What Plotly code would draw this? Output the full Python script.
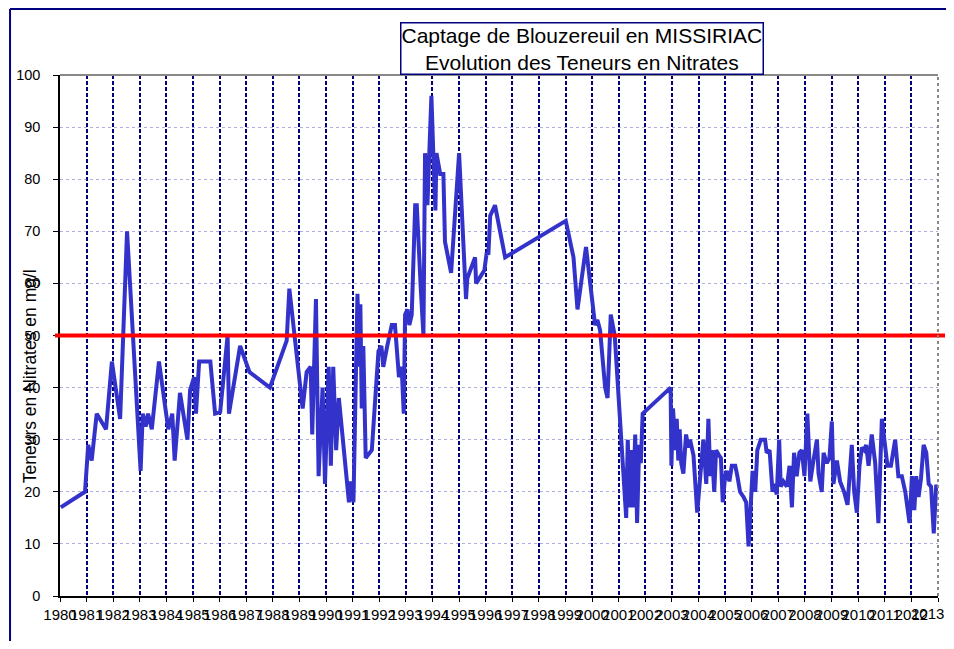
import plotly.graph_objects as go

# Sample dates (decimal years) and nitrate concentrations (mg/l)
years = [
    1980.03, 1980.94, 1981.06, 1981.19, 1981.38, 1981.73, 1981.95, 1982.26, 1982.52, 1983.03,
    1983.11, 1983.22, 1983.31, 1983.45, 1983.72, 1983.92, 1984.07, 1984.22, 1984.31, 1984.51,
    1984.79, 1984.89, 1985.04, 1985.11, 1985.23, 1985.65, 1985.83, 1986.02, 1986.30, 1986.35,
    1986.77, 1987.12, 1987.89, 1988.52, 1988.62, 1989.12, 1989.27, 1989.42, 1989.48, 1989.62,
    1989.72, 1989.87, 1989.96, 1990.10, 1990.18, 1990.27, 1990.38, 1990.48, 1990.78, 1990.86,
    1990.93, 1991.03, 1991.18, 1991.25, 1991.29, 1991.34, 1991.40, 1991.49, 1991.72, 1991.97,
    1992.08, 1992.15, 1992.30, 1992.47, 1992.59, 1992.74, 1992.84, 1992.92, 1992.97, 1993.06,
    1993.13, 1993.22, 1993.35, 1993.41, 1993.56, 1993.66, 1993.72, 1993.81, 1993.88, 1993.96,
    1994.03, 1994.11, 1994.15, 1994.29, 1994.41, 1994.47, 1994.70, 1995.00, 1995.26, 1995.31,
    1995.60, 1995.64, 1995.95, 1996.04, 1996.10, 1996.17, 1996.35, 1996.73, 1999.01, 1999.30,
    1999.45, 1999.77, 2000.11, 2000.20, 2000.30, 2000.49, 2000.58, 2000.70, 2000.85, 2001.28,
    2001.34, 2001.40, 2001.47, 2001.53, 2001.62, 2001.69, 2001.77, 2001.83, 2001.90, 2002.95,
    2002.98, 2003.04, 2003.14, 2003.18, 2003.24, 2003.29, 2003.35, 2003.43, 2003.53, 2003.62,
    2003.68, 2003.81, 2003.95, 2004.06, 2004.18, 2004.29, 2004.37, 2004.44, 2004.50, 2004.59,
    2004.66, 2004.77, 2004.84, 2004.91, 2005.00, 2005.06, 2005.16, 2005.25, 2005.38, 2005.46,
    2005.56, 2005.69, 2005.79, 2005.88, 2005.98, 2006.03, 2006.13, 2006.21, 2006.34, 2006.50,
    2006.56, 2006.67, 2006.78, 2006.84, 2006.94, 2007.03, 2007.09, 2007.19, 2007.32, 2007.42,
    2007.51, 2007.59, 2007.69, 2007.79, 2007.88, 2007.98, 2008.09, 2008.20, 2008.32, 2008.45,
    2008.51, 2008.63, 2008.70, 2008.82, 2008.92, 2009.01, 2009.07, 2009.20, 2009.32, 2009.47,
    2009.60, 2009.76, 2009.85, 2009.95, 2010.05, 2010.14, 2010.23, 2010.30, 2010.39, 2010.51,
    2010.64, 2010.76, 2010.89, 2011.01, 2011.10, 2011.23, 2011.39, 2011.51, 2011.64, 2011.77,
    2011.93, 2012.02, 2012.11, 2012.18, 2012.27, 2012.36, 2012.46, 2012.56, 2012.65, 2012.74,
    2012.84, 2012.93, 2013.02,
]
nitrates = [
    17, 20, 29, 26, 35, 32, 45, 34, 70, 24,
    35, 32.5, 35, 32, 45, 37.5, 32, 35, 26, 39,
    30, 39.5, 42, 35, 45, 45, 35, 35.3, 50, 35,
    48, 43, 40, 49, 59, 36, 43, 44, 31, 57,
    23, 40, 21.5, 44, 25, 44, 28, 38, 22, 18,
    22, 18, 58, 44, 56, 36, 48, 26.5, 28, 47,
    48, 44, 48, 52, 52, 42, 44, 35, 54, 55,
    52, 54, 75, 75, 59, 50, 85, 75, 85, 96,
    85, 74, 85, 81, 81, 68, 62, 85, 57, 61,
    65, 60, 62.5, 66, 65.5, 73, 75, 65, 72, 65,
    55, 67, 52, 53, 51, 40, 38, 54, 50, 15,
    30, 17, 28, 17, 31, 14, 29, 25.5, 35, 40,
    25, 36, 28, 34, 26, 32, 25.5, 23.5, 31, 28.5,
    30, 27, 16, 23.5, 30, 21.5, 34, 23, 28, 20,
    28, 27, 26.5, 18, 23, 24, 22, 25, 25, 23,
    20, 19, 18, 9.5, 18, 24, 20, 28, 30, 30,
    27.5, 28, 20, 21.5, 19.5, 30, 21, 22, 21, 25,
    17, 27.5, 23, 27.5, 28, 23, 35, 22, 26, 30,
    23.5, 20, 27.5, 25.5, 26.5, 33.5, 21.5, 26, 22, 20,
    17.5, 29, 20, 16, 25, 28.5, 28, 29, 25, 31,
    25.5, 14, 34, 29, 25, 25, 30, 23, 23, 20,
    14, 23, 16.5, 23, 19, 22.5, 29, 27.5, 21.5, 21,
    12, 21, 21,
]

tick_years = list(range(1980, 2014))
tick_labels = [str(y) for y in tick_years]
y_ticks = list(range(0, 101, 10))
limit_value = 50

FONT = "Liberation Sans, Arial, sans-serif"
NAVY = "#000080"

fig = go.Figure()
fig.add_trace(go.Scatter(
    x=years, y=nitrates, mode="lines",
    line=dict(color="#3333cc", width=4),
    hoverinfo="x+y", showlegend=False,
))

# threshold line
fig.add_shape(type="line", xref="paper", yref="y", x0=-0.0057, x1=1.008,
              y0=limit_value, y1=limit_value,
              line=dict(color="#ff0000", width=4), layer="above")
# plot area border (top, right) in grey
fig.add_shape(type="line", xref="paper", yref="paper", x0=0, x1=1, y0=1, y1=1,
              line=dict(color="#888888", width=2), layer="above")
fig.add_shape(type="line", xref="paper", yref="paper", x0=1, x1=1, y0=0, y1=1,
              line=dict(color="#888888", width=2, dash="dot"), layer="above")
# outer chart frame (top and left)
fig.add_shape(type="line", xref="paper", yref="paper", x0=-0.0569, x1=1.02,
              y0=1.1267, y1=1.1267, line=dict(color=NAVY, width=2), layer="above")
fig.add_shape(type="line", xref="paper", yref="paper", x0=-0.0569, x1=-0.0569,
              y0=-0.0864, y1=1.1267, line=dict(color=NAVY, width=2), layer="above")

# title box
fig.add_annotation(
    text="Captage de Blouzereuil en MISSIRIAC<br>Evolution des Teneurs en Nitrates",
    xref="paper", yref="paper", x=0.5945, y=1.0, xanchor="center", yanchor="bottom",
    showarrow=False, font=dict(family=FONT, size=21, color="#000000"),
    bordercolor=NAVY, borderwidth=1.5, borderpad=0, bgcolor="white",
)
# y axis title
fig.add_annotation(
    text="Teneurs en Nitrates en mg/l", textangle=-90,
    xref="paper", yref="paper", x=-0.034, y=0.422, xanchor="center", yanchor="middle",
    showarrow=False, font=dict(family=FONT, size=17.5, color="#000000"),
)
# last x tick label, kept inside the figure edge
fig.add_annotation(
    text=tick_labels[-1], xref="paper", yref="paper", x=1.0091, y=-0.0345,
    xanchor="right", yanchor="middle", showarrow=False,
    font=dict(family=FONT, size=15, color="#000000"),
)

fig.update_layout(
    width=938, height=633,
    margin=dict(l=52, r=8, t=67, b=45),
    paper_bgcolor="white", plot_bgcolor="white",
    font=dict(family=FONT, size=14, color="#000000"),
    xaxis=dict(
        range=[1980, 2013], tickmode="array", tickvals=tick_years,
        ticktext=tick_labels[:-1] + [""],
        tickangle=0, showgrid=True, gridcolor=NAVY, gridwidth=2, griddash="4px,2px",
        showline=True, linecolor="#000000", linewidth=1.5,
        ticks="outside", ticklen=4, tickcolor="#000000",
        zeroline=False, tickfont=dict(size=15),
    ),
    yaxis=dict(
        range=[0, 100], tickmode="array", tickvals=y_ticks,
        showgrid=True, gridcolor="rgba(110,110,200,0.55)", gridwidth=1, griddash="dot",
        showline=True, linecolor="#000000", linewidth=1.5,
        ticks="outside", ticklen=5, tickcolor="#000000",
        zeroline=False, tickfont=dict(size=14.5), ticklabelstandoff=10,
    ),
)

fig.write_html("out.html")
